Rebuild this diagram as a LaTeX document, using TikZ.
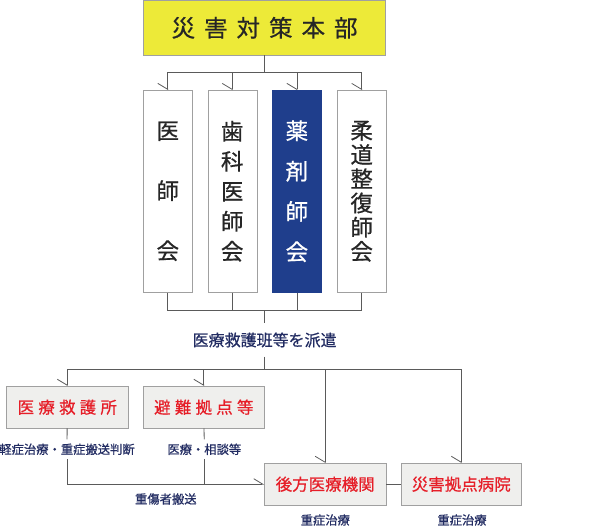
\documentclass[tikz,border=0pt]{standalone}
\usepackage{fontspec}
\usepackage{xcolor}
\usepackage{tikz}
\usetikzlibrary{arrows.meta,positioning}
\newfontfamily\jpfont[FakeBold=0.6]{Noto Sans CJK JP}
\definecolor{hqyellow}{RGB}{237,234,56}
\definecolor{yakublue}{RGB}{31,62,140}
\definecolor{sitered}{RGB}{230,30,40}
\definecolor{notenavy}{RGB}{34,44,98}
\definecolor{boxgray}{RGB}{239,239,237}
\definecolor{edgegray}{RGB}{160,160,160}
\definecolor{linegray}{RGB}{90,90,90}

\begin{document}
\begin{tikzpicture}[
    x=1pt, y=-1pt,
    hq/.style={rectangle, draw=edgegray, fill=hqyellow, minimum width=242pt, minimum height=55pt, inner sep=0pt, font=\jpfont\fontsize{23.5pt}{23.5pt}\selectfont, text=black!85},
    assoc/.style={rectangle, draw=edgegray, fill=white, minimum width=49pt, minimum height=202pt, inner sep=0pt, align=center, font=\jpfont\fontsize{22.5pt}{#1}\selectfont, text=black!85},
    site/.style={rectangle, draw=edgegray, fill=boxgray, minimum width=121pt, minimum height=42pt, inner sep=0pt, font=\jpfont\fontsize{16.5pt}{16.5pt}\selectfont, text=sitered},
    note/.style={inner sep=4pt, text=notenavy, font=\jpfont\fontsize{12.3pt}{12.3pt}\selectfont},
    link/.style={draw=linegray, line width=0.8pt},
    darr/.style={link, -{Straight Barb[harpoon, swap, length=6pt, width=20pt]}},
    rarr/.style={link, -{Straight Barb[harpoon, length=9pt, width=11pt]}}
]
    \useasboundingbox (0,0) rectangle (600,527);

    % headquarters and the four associations
    \node[hq] (hq) at (264.6,27.8) {災\hspace{9pt}害\hspace{9pt}対\hspace{9pt}策\hspace{9pt}本\hspace{9pt}部};
    \node[assoc=60pt] (ishi) at (167.8,191.3) {医\\師\\会};
    \node[assoc=30pt] (shika) at (232.2,191.3) {歯\\科\\医\\師\\会};
    \node[assoc=40.3pt, fill=yakublue, draw=yakublue, text=white] (yaku) at (296.9,191.3) {薬\\剤\\師\\会};
    \node[assoc=24.2pt] (judo) at (361.7,191.3) {柔\\道\\整\\復\\師\\会};

    \coordinate (bus1) at (264.6,72.7);
    \coordinate (bus2) at (264.6,310);
    \coordinate (bus3) at (264.6,369);

    \draw[link] (hq) -- (bus1);
    \draw[darr] (bus1) -| (ishi);
    \draw[darr] (bus1) -| (shika);
    \draw[darr] (bus1) -| (yaku);
    \draw[darr] (bus1) -| (judo);

    \draw[link] (ishi) |- (bus2);
    \draw[link] (shika) |- (bus2);
    \draw[link] (yaku) |- (bus2);
    \draw[link] (judo) |- (bus2);

    % dispatch
    \node[note, inner sep=9pt, font=\jpfont\fontsize{16pt}{16pt}\selectfont] (haken) at (264.6,340) {医療救護班等を派遣};
    \draw[link] (bus2) -- (haken);
    \draw[link] (haken) -- (bus3);

    % sites and hospitals
    \node[site, minimum width=122pt] (kyugo) at (67.3,407.2) {医\hspace{4.2pt}療\hspace{4.2pt}救\hspace{4.2pt}護\hspace{4.2pt}所};
    \node[site] (hinan) at (203.8,407.2) {避\hspace{4.2pt}難\hspace{4.2pt}拠\hspace{4.2pt}点\hspace{4.2pt}等};
    \node[site, minimum width=121.7pt] (koho) at (325.2,484.2) {後方医療機関};
    \node[site, minimum width=120.7pt] (kyoten) at (461.3,484.2) {災害拠点病院};

    \draw[darr] (bus3) -| (kyugo);
    \draw[darr] (bus3) -| (hinan);
    \draw[darr] (bus3) -| (koho);
    \draw[darr] (bus3) -| (kyoten);

    \node[note] (kyugonote) at (67,449.3) {軽症治療・重症搬送判断};
    \node[note] (hinannote) at (204.3,449.3) {医療・相談等};
    \draw[link] (kyugo) -- (kyugonote);
    \draw[link] (hinan) -- (hinannote);
    \draw[rarr] (kyugonote) |- (koho);
    \draw[link] (hinannote) -- (hinannote |- koho.west);
    \draw[link] (koho) -- (kyoten);

    \node[note] (hanso) at (165.8,499) {重傷者搬送};
    \node[note] (kohonote) at (325.3,520) {重症治療};
    \node[note] (kyotennote) at (462,520) {重症治療};
\end{tikzpicture}
\end{document}
